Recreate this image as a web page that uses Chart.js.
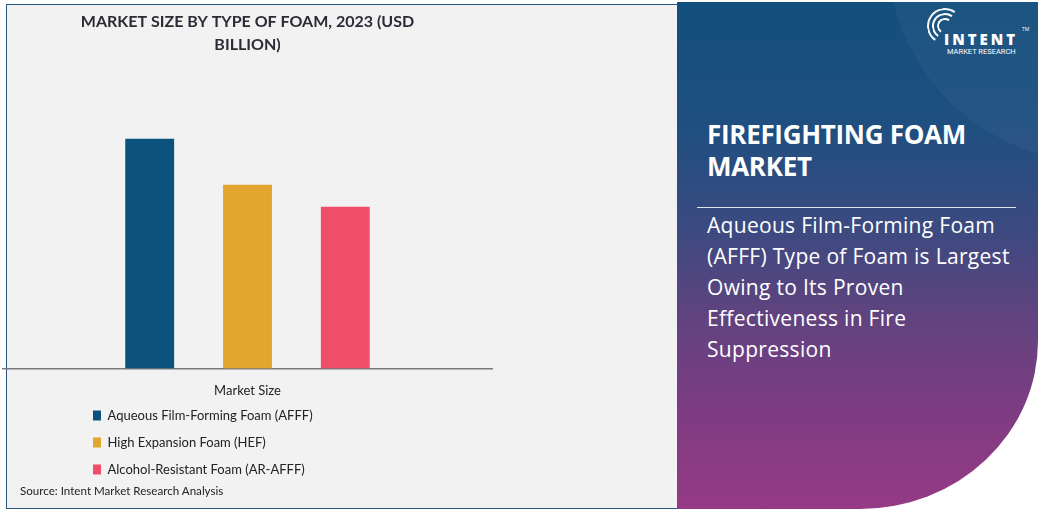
<!DOCTYPE html>
<html>
<head>
<meta charset="utf-8">
<script src="https://cdn.jsdelivr.net/npm/chart.js@4/dist/chart.umd.min.js"></script>
<style>
  html, body { margin: 0; padding: 0; background: #ffffff; width: 1043px; height: 513px; overflow: hidden; }
  body { position: relative; font-family: "Open Sans", "Noto Sans", sans-serif; }
  #leftPanel { position: absolute; left: 6px; top: 4px; width: 672px; height: 505px; background: #f2f2f2; border: 1px solid #2a5580; box-sizing: border-box; }
  #chartWrap { position: absolute; left: 0; top: 0; width: 524px; height: 500px; }
  #source { position: absolute; left: 20px; top: 484px; font-size: 11.6px; color: #222; font-family: "Lato", sans-serif; }
  #rightPanel { position: absolute; left: 677px; top: 2px; width: 361px; height: 507px;
    background: linear-gradient(180deg, #124f7c 0%, #1f4f80 25%, #3c4a80 45%, #60437f 62%, #7d3c82 80%, #963a85 100%);
    border-bottom-right-radius: 178px 168px; overflow: hidden; }
  #arc { position: absolute; left: 210px; top: -260px; width: 420px; height: 420px; border-radius: 50%; background: rgba(255,255,255,0.04); }
  .rt { position: absolute; color: #fff; }
  #headline { left: 30px; top: 116px; font-size: 26px; font-weight: 700; line-height: 32px; font-family: "Open Sans", sans-serif; letter-spacing: -0.3px; }
  #rule { position: absolute; left: 20px; top: 205px; width: 319px; height: 1px; background: rgba(255,255,255,0.85); }
  #para { left: 30px; top: 208px; font-size: 21px; font-weight: 500; line-height: 31px; font-family: "Open Sans", sans-serif; letter-spacing: 0.3px; }
  #logo { position: absolute; left: 255px; top: 10px; width: 100px; height: 50px; }
  #logoText { position: absolute; left: 12px; top: 17px; font-size: 15px; font-weight: 800; letter-spacing: 3px; color: #fff; font-family: "Open Sans", sans-serif; }
  #logoSub { position: absolute; left: 15px; top: 35px; font-size: 7.5px; color: #fff; font-family: "Roboto", sans-serif; letter-spacing: 0; }
  #tm { position: absolute; left: 90px; top: 14px; font-size: 5px; color: #fff; }
  .ring { position: absolute; border: 2.5px solid #fff; border-radius: 50%; border-right-color: transparent; border-bottom-color: transparent; transform: rotate(-10deg); }
</style>
</head>
<body>
<div id="leftPanel"></div>
<div id="chartWrap"><canvas id="c" width="524" height="500"></canvas></div>
<div id="source">Source: Intent Market Research Analysis</div>
<div id="rightPanel">
  <div id="arc"></div>
  <div id="logo">
    <div class="ring" style="left:5px;top:6px;width:12px;height:12px;"></div>
    <div class="ring" style="left:0px;top:1px;width:22px;height:22px;"></div>
    <div class="ring" style="left:-5px;top:-4px;width:32px;height:32px;opacity:0.95"></div>
    <div id="logoText">INTENT</div>
    <div id="tm">TM</div>
    <div id="logoSub">MARKET RESEARCH</div>
  </div>
  <div class="rt" id="headline">FIREFIGHTING FOAM<br>MARKET</div>
  <div id="rule"></div>
  <div class="rt" id="para">Aqueous Film-Forming Foam<br>(AFFF) Type of Foam is Largest<br>Owing to Its Proven<br>Effectiveness in Fire<br>Suppression</div>
</div>
<script>
const categories = ["Market Size"];
const seriesNames = ["Aqueous Film-Forming Foam (AFFF)", "High Expansion Foam (HEF)", "Alcohol-Resistant Foam (AR-AFFF)"];
const seriesValues = [1.25, 1.0, 0.88];
const seriesColors = ["#0b537e", "#e2a52e", "#f04e68"];
const titleLines = ["MARKET SIZE BY TYPE OF FOAM, 2023 (USD", "BILLION)"];

const legendShift = {
  id: 'legendShift',
  afterLayout(chart) {
    chart.legend.left = 79;
    chart.legend.top = 395;
  }
};

new Chart(document.getElementById('c'), {
  type: 'bar',
  data: {
    labels: categories,
    datasets: seriesNames.map((n, i) => ({
      label: n,
      data: [seriesValues[i]],
      backgroundColor: seriesColors[i],
      barPercentage: 0.5,
      categoryPercentage: 0.6
    }))
  },
  options: {
    responsive: false,
    animation: false,
    layout: { padding: { left: 3, right: 32, top: 4, bottom: 22 } },
    plugins: {
      title: {
        display: true,
        text: titleLines,
        color: '#2b2b35',
        font: { family: 'Lato', size: 16, weight: '700', lineHeight: 1.46 },
        padding: { top: 6, bottom: 14 }
      },
      legend: {
        position: 'bottom',
        align: 'start',
        labels: {
          color: '#222',
          font: { family: 'Lato', size: 13 },
          boxWidth: 8,
          boxHeight: 10,
          padding: 14
        }
      },
      tooltip: { enabled: false }
    },
    scales: {
      x: {
        grid: { display: false, drawTicks: false },
        border: { display: true, color: '#7a7a7a', width: 1.5 },
        ticks: { color: '#222', font: { family: 'Lato', size: 13 }, padding: 15 }
      },
      y: {
        display: false,
        min: 0,
        max: 1.62
      }
    }
  },
  plugins: [legendShift]
});
</script>
</body>
</html>
